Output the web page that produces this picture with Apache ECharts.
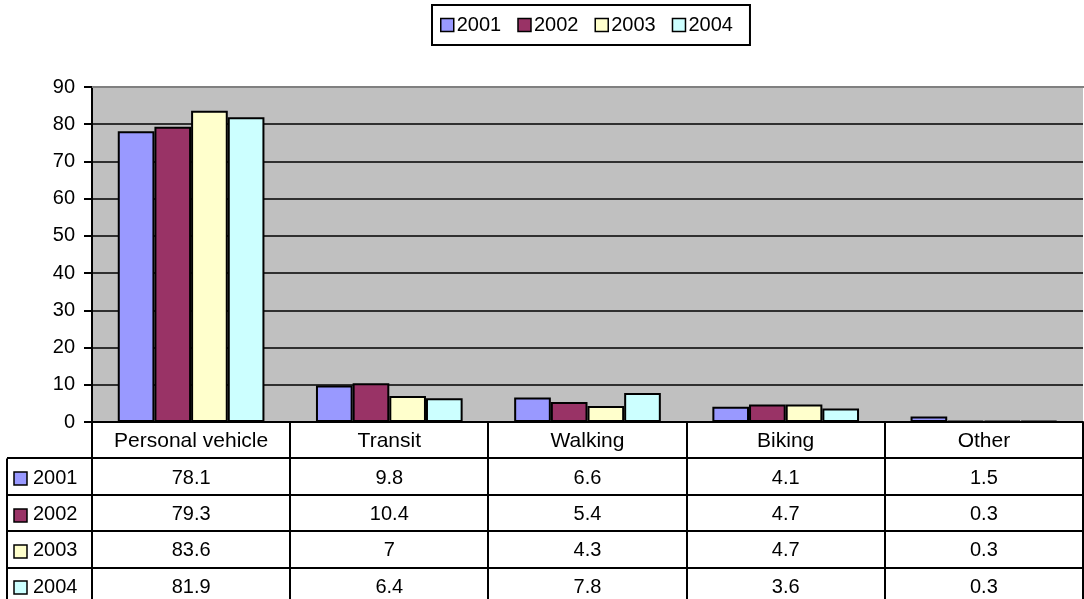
<!DOCTYPE html>
<html><head><meta charset="utf-8">
<script src="https://cdn.jsdelivr.net/npm/echarts@6/dist/echarts.min.js"></script>
<style>html,body{margin:0;padding:0;background:#fff}#c{width:1084px;height:599px}</style>
</head><body><div id="c"></div>
<script>
const categories = ['Personal vehicle', 'Transit', 'Walking', 'Biking', 'Other'];
const seriesNames = ['2001', '2002', '2003', '2004'];
const v2001 = [78.1, 9.8, 6.6, 4.1, 1.5];
const v2002 = [79.3, 10.4, 5.4, 4.7, 0.3];
const v2003 = [83.6, 7, 4.3, 4.7, 0.3];
const v2004 = [81.9, 6.4, 7.8, 3.6, 0.3];
const colors = ['#9999FF', '#993366', '#FFFFCC', '#CCFFFF'];
const allValues = [v2001, v2002, v2003, v2004];

const FONT = 'Liberation Sans, Arial, sans-serif';
const FS = 20;
const G = {left: 92, top: 87, right: 1083, bottom: 422};
const rowH = 36.4;
const tableLeft = 7;

const chart = echarts.init(document.getElementById('c'), null, {renderer: 'canvas'});

const series = seriesNames.map((n, i) => ({
  name: n, type: 'bar', data: allValues[i],
  barGap: '0%', barCategoryGap: '26%',
  itemStyle: {color: colors[i], borderColor: '#000', borderWidth: 2},
  animation: false
}));

const graphics = [];
const colW = (G.right - G.left) / categories.length;
const lineStyle = {stroke: '#000', lineWidth: 2};
// plot area top border
graphics.push({type: 'line', shape: {x1: G.left, y1: G.top, x2: 1084, y2: G.top}, style: {stroke: '#808080', lineWidth: 2}, silent: true, z: 50});
for (let c = 0; c <= categories.length; c++) {
  const x = Math.round(G.left + c * colW);
  graphics.push({type: 'line', shape: {x1: x, y1: G.bottom, x2: x, y2: 620}, style: lineStyle, silent: true});
}
graphics.push({type: 'line', shape: {x1: tableLeft, y1: G.bottom + rowH, x2: tableLeft, y2: 620}, style: lineStyle, silent: true});
for (let r = 1; r <= seriesNames.length; r++) {
  const y = Math.round(G.bottom + r * rowH);
  graphics.push({type: 'line', shape: {x1: tableLeft, y1: y, x2: G.right, y2: y}, style: lineStyle, silent: true});
}
categories.forEach((c, ci) => {
  graphics.push({type: 'text', x: G.left + (ci + 0.5) * colW, y: G.bottom + rowH / 2 + 1,
    style: {text: c, font: (FS + 1) + 'px ' + FONT, fill: '#000', textAlign: 'center', textVerticalAlign: 'middle'}, silent: true});
});
seriesNames.forEach((n, si) => {
  const yc = G.bottom + (si + 1.5) * rowH + 1.5;
  graphics.push({type: 'rect', shape: {x: 14, y: Math.round(yc) - 6, width: 13, height: 13},
    style: {fill: colors[si], stroke: '#000', lineWidth: 1.5}, silent: true});
  graphics.push({type: 'text', x: 33, y: yc,
    style: {text: n, font: FS + 'px ' + FONT, fill: '#000', textAlign: 'left', textVerticalAlign: 'middle'}, silent: true});
  allValues[si].forEach((v, ci) => {
    graphics.push({type: 'text', x: G.left + (ci + 0.5) * colW, y: yc,
      style: {text: String(v), font: FS + 'px ' + FONT, fill: '#000', textAlign: 'center', textVerticalAlign: 'middle'}, silent: true});
  });
});

chart.setOption({
  animation: false,
  backgroundColor: '#fff',
  legend: {
    data: seriesNames, top: 5, left: 432,
    icon: 'rect', itemWidth: 13, itemHeight: 13, itemGap: 16,
    borderColor: '#000', borderWidth: 2, padding: [10, 17, 10, 8],
    textStyle: {fontFamily: FONT, fontSize: FS, color: '#000', padding: [0, 0, 0, -2]},
    itemStyle: {borderColor: '#000', borderWidth: 1.5},
    selectedMode: false
  },
  grid: {left: G.left, top: G.top, width: G.right - G.left, height: G.bottom - G.top,
    show: true, backgroundColor: '#C0C0C0', borderWidth: 0},
  xAxis: {type: 'category', data: categories,
    axisLine: {show: true, lineStyle: {color: '#000', width: 2}},
    axisTick: {show: false}, axisLabel: {show: false}, splitLine: {show: false}},
  yAxis: {type: 'value', min: 0, max: 90, interval: 10,
    axisLine: {show: true, lineStyle: {color: '#000', width: 2}},
    axisTick: {show: true, length: 8, inside: false, lineStyle: {color: '#000', width: 2}},
    axisLabel: {fontFamily: FONT, fontSize: FS, color: '#000', margin: 17},
    splitLine: {show: true, lineStyle: {color: '#000', width: 1.5}}},
  series: series,
  graphic: graphics
});
</script></body></html>
